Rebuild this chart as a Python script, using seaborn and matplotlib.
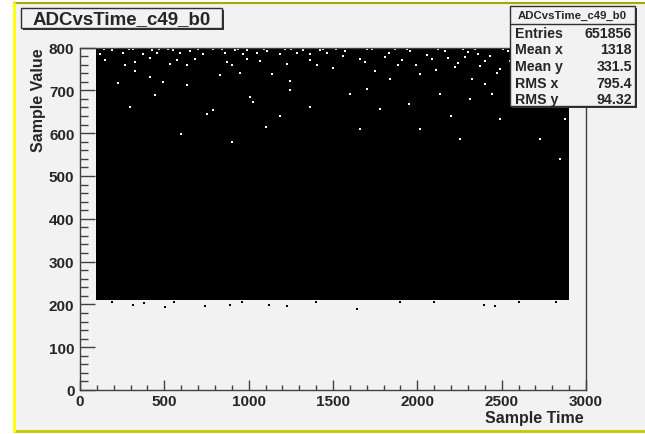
import matplotlib
matplotlib.use("Agg")
import matplotlib.pyplot as plt
from matplotlib.patches import Rectangle
from matplotlib.lines import Line2D
from matplotlib.ticker import MultipleLocator
import numpy as np
import pandas as pd
import seaborn as sns

# ---- data -------------------------------------------------------------
hist_name = "ADCvsTime_c49_b0"
x_title = "Sample Time"
y_title = "Sample Value"

# extent of the densely filled region (sample time, ADC value)
time_span = [95, 2900]
value_floor = 210
value_ceiling = 800

# isolated entries below the dense band
low_time = [190, 314, 380, 504, 560, 741, 889, 960, 1120, 1227, 1400, 1642,
            1900, 2100, 2395, 2460, 2600, 2822]
low_value = [206, 199, 203, 194, 206, 196, 199, 205, 199, 196, 206, 189,
             205, 206, 199, 196, 205, 206]

# empty cells inside the upper, sparser part of the band
gap_time = [119, 190, 255, 314, 373, 427, 456, 551, 593, 652, 729, 789, 860,
            919, 966, 990, 1049, 1108, 1186, 1215, 1286, 1322, 1363, 1423, 1464,
            148, 267, 326, 415, 533, 575, 634, 682, 871, 901, 990, 1067, 1227,
            1363, 1405,
            326, 415, 492, 634, 225, 948, 1138, 1245, 830,
            445, 788, 1025, 1186, 1363, 1245, 1008, 753, 296,
            1571, 1660, 1731, 1808, 1885, 1956, 2015, 2087, 2164, 2223, 2282,
            2324, 2359, 2401, 2442, 2490, 2537, 2578, 2638, 2697, 2756, 2798,
            2845, 2875, 1600, 1778, 2015, 2253, 2490, 2727, 2312, 2134, 1838,
            1660, 2845,
            140, 210, 290, 350, 470, 520, 610, 700, 760, 840, 935, 1030, 1090,
            1170, 1250, 1340, 1440, 1520, 1610, 1700, 1790, 1870, 1940, 2050,
            2120, 2200, 2270, 2340, 2420, 2510, 2560, 2650, 2720, 2790, 2860,
            1500, 1560, 1690, 1750, 1830, 1910, 1990, 2060, 2110, 2180, 2240,
            2300, 2370, 2430, 2470, 2550, 2610, 2680, 2740, 2810, 2870,
            1700, 1950, 2200, 2400, 2650, 2880, 1100, 600, 900]
gap_value = [785, 795, 788, 796, 784, 793, 787, 795, 786, 792, 784, 796, 788,
             793, 785, 795, 787, 792, 784, 796, 788, 793, 785, 795, 787,
             770, 760, 765, 775, 762, 770, 758, 772, 765, 760, 773, 768, 762,
             770, 758,
             745, 730, 720, 712, 716, 740, 738, 722, 735,
             690, 655, 672, 640, 660, 700, 685, 645, 660,
             792, 773, 797, 778, 759, 792, 738, 773, 792, 755, 778,
             727, 785, 769, 692, 750, 792, 715, 773, 745, 785, 680,
             762, 633, 692, 657, 610, 586, 633, 586, 680, 692, 727,
             610, 540,
             797, 798, 796, 799, 797, 796, 798, 797, 799, 796, 797, 798, 796,
             799, 797, 798, 796, 797, 799, 796, 798, 797, 796, 799,
             797, 798, 796, 797, 799, 796, 798, 797, 796, 799, 797,
             752, 781, 766, 745, 788, 771, 760, 783, 748, 775, 764,
             790, 757, 779, 741, 768, 782, 755, 776, 749, 770,
             702, 668, 640, 715, 660, 690, 615, 598, 580]

stat_labels = ["Entries", "Mean x", "Mean y", "RMS x", "RMS y"]
stat_values = ["651856", "1318", "331.5", "795.4", "94.32"]

x_limits = (0, 3000)
y_limits = (0, 800)

# ---- style ------------------------------------------------------------
sns.set_style("ticks")
plt.rcParams["font.family"] = ["Liberation Sans", "DejaVu Sans"]
plt.rcParams["font.weight"] = "bold"

W, H = 645, 435
BG = "#f2f2f2"


def fx(px):
    return px / W


def fy(py):
    return 1 - py / H


fig = plt.figure(figsize=(W / 100, H / 100), dpi=100)
fig.patch.set_facecolor("white")

# canvas with highlighted border
fig.patches.append(Rectangle((fx(14), fy(432)), 1 - fx(14), fy(4) - fy(432),
                             transform=fig.transFigure, facecolor=BG,
                             edgecolor="none", zorder=-5))
fig.lines.append(Line2D([fx(14), 1], [fy(4), fy(4)], transform=fig.transFigure,
                        color="#a8a800", lw=1.5, zorder=-4))
fig.lines.append(Line2D([fx(14), 1], [fy(432), fy(432)], transform=fig.transFigure,
                        color="#c8c800", lw=2.0, zorder=-4))
fig.lines.append(Line2D([fx(14), fx(14)], [fy(432), fy(4)], transform=fig.transFigure,
                        color="#ffff00", lw=2.0, zorder=-4))

ax = fig.add_axes([fx(80), fy(391), fx(586) - fx(80), fy(48.5) - fy(391)])
ax.set_zorder(1)
ax.set_facecolor(BG)

# dense band
ax.fill_between(time_span, [value_floor] * 2, [value_ceiling] * 2,
                color="black", linewidth=0, zorder=2)

low_df = pd.DataFrame({"t": low_time, "v": low_value})
gap_df = pd.DataFrame({"t": gap_time, "v": gap_value})
sns.scatterplot(data=low_df, x="t", y="v", ax=ax, color="black", marker="s",
                s=3.5, linewidth=0, zorder=3, legend=False)
sns.scatterplot(data=gap_df, x="t", y="v", ax=ax, color="white", marker="s",
                s=2.2, linewidth=0, zorder=3, legend=False)

ax.set_xlim(*x_limits)
ax.set_ylim(*y_limits)
ax.set_xlabel("")
ax.set_ylabel("")

for side in ["top", "right", "bottom", "left"]:
    ax.spines[side].set_visible(True)
    ax.spines[side].set_color("#404040")
    ax.spines[side].set_linewidth(1.0)
    ax.spines[side].set_zorder(4)

ax.xaxis.set_major_locator(MultipleLocator(500))
ax.xaxis.set_minor_locator(MultipleLocator(100))
ax.yaxis.set_major_locator(MultipleLocator(100))
ax.yaxis.set_minor_locator(MultipleLocator(20))
ax.tick_params(axis="x", which="major", direction="in", length=7.2, width=1,
               color="#404040", labelsize=11, pad=3, top=False)
ax.tick_params(axis="x", which="minor", direction="in", length=3.6, width=1,
               color="#404040", top=False)
ax.tick_params(axis="y", which="major", direction="in", length=10.8, width=1,
               color="#404040", labelsize=11, pad=4, right=False)
ax.tick_params(axis="y", which="minor", direction="in", length=5.4, width=1,
               color="#404040", right=False)
for lab in ax.get_xticklabels() + ax.get_yticklabels():
    lab.set_fontweight("bold")

# axis titles, right/top aligned as in ROOT
fig.text(fx(584), fy(419), x_title, ha="right", va="center", fontsize=11.5,
         fontweight="bold")
fig.text(fx(38), fy(48), y_title, ha="center", va="top", rotation=90,
         fontsize=11.5, fontweight="bold")


def boxed(x0, y0, x1, y1):
    # shadow then box
    fig.patches.append(Rectangle((fx(x0 + 2), fy(y1 + 2)), fx(x1) - fx(x0),
                                 fy(y0) - fy(y1), transform=fig.transFigure,
                                 facecolor="#303030", edgecolor="none", zorder=5))
    fig.patches.append(Rectangle((fx(x0), fy(y1)), fx(x1) - fx(x0),
                                 fy(y0) - fy(y1), transform=fig.transFigure,
                                 facecolor=BG, edgecolor="#303030", lw=1.0,
                                 zorder=6))


# title box
boxed(21, 9, 222, 29)
fig.text(fx(121.5), fy(19.5), hist_name, ha="center", va="center",
         fontsize=13.5, fontweight="bold", zorder=7)

# statistics box
boxed(510, 7, 635, 107)
fig.lines.append(Line2D([fx(510), fx(635)], [fy(25), fy(25)],
                        transform=fig.transFigure, color="#303030", lw=1.0,
                        zorder=7))
fig.text(fx(572.5), fy(15.5), hist_name, ha="center", va="center",
         fontsize=8.2, fontweight="bold", zorder=7)
row_y = [33.5, 50.5, 67, 83.5, 100]
for lab, val, ry in zip(stat_labels, stat_values, row_y):
    fig.text(fx(515), fy(ry), lab, ha="left", va="center", fontsize=10.2,
             fontweight="bold", zorder=7)
    fig.text(fx(632), fy(ry), val, ha="right", va="center", fontsize=10.2,
             fontweight="bold", zorder=7)

fig.savefig("out.png", dpi=100, facecolor=fig.get_facecolor())
